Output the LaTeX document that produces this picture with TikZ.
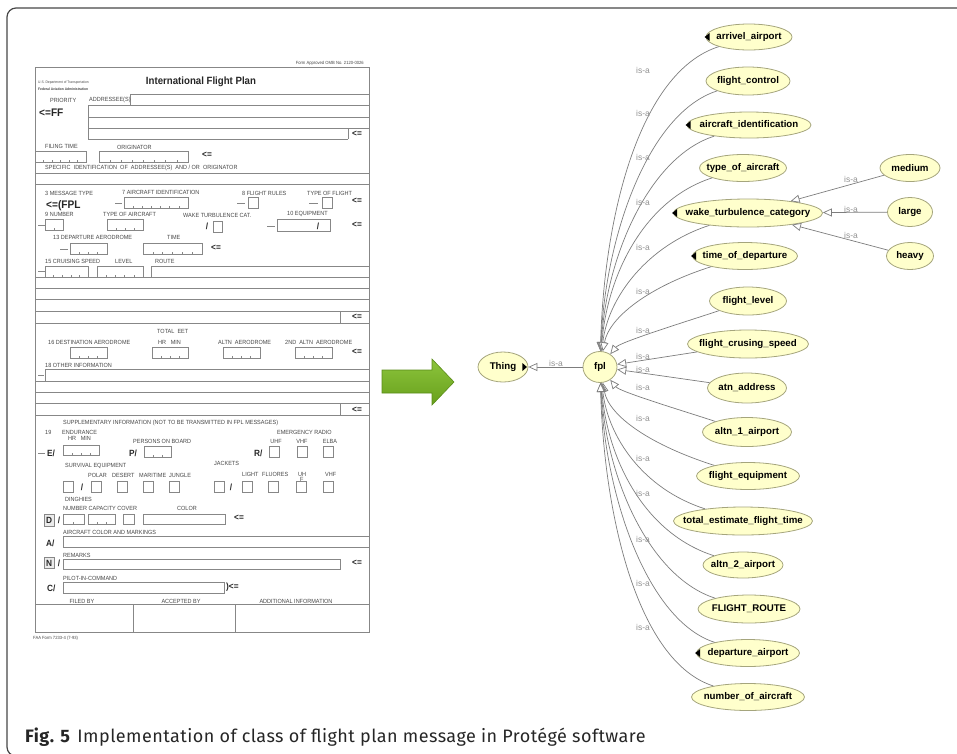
\documentclass[tikz,border=0pt]{standalone}
\usepackage{fontspec}
\setmainfont{Liberation Sans}
\newfontfamily\formfont[FakeStretch=0.92]{Liberation Sans}
\newfontfamily\capfont[LetterSpace=2.5]{Fira Sans}
\usetikzlibrary{shapes.geometric,arrows.meta}
\definecolor{nodefill}{RGB}{255,255,204}
\definecolor{nodeline}{RGB}{165,165,125}
\definecolor{edgegray}{RGB}{125,125,125}
\definecolor{formline}{RGB}{135,135,135}
\definecolor{formtext}{RGB}{70,70,70}
\definecolor{greenA}{RGB}{140,196,60}
\definecolor{greenB}{RGB}{104,160,28}
\definecolor{greenC}{RGB}{90,140,25}
\newcounter{lb}
\newcommand\flab[4][west]{\stepcounter{lb}\node[flabel,anchor=#1] (L\arabic{lb}) at (#2,#3) {#4};}
\newcommand\fcomb[5]{%
  \draw[fl] (#1,#2) rectangle (#3,#4);%
  \pgfmathtruncatemacro\fcn{#5-1}%
  \foreach \fci in {1,...,\fcn}{\draw[fl] ({#1+\fci*(#3-#1)/#5},#4) -- ++(0,-2.5);}%
}
\tikzset{
  frame/.style={draw=black!72, line width=1.2pt, rounded corners=9pt},
  fl/.style={draw=formline, line width=0.55pt},
  flabel/.style={inner sep=0pt, font=\formfont\fontsize{6}{6.5}\selectfont, text=formtext},
  ftitle/.style={inner sep=0pt, font=\formfont\bfseries\fontsize{10.5}{12}\selectfont, text=black!85},
  fbig/.style={inner sep=0pt, font=\formfont\bfseries\fontsize{11}{12}\selectfont, text=black!85},
  farr/.style={inner sep=0pt, font=\formfont\bfseries\fontsize{9}{10}\selectfont, text=black!85},
  cls/.style 2 args={ellipse, draw=nodeline, fill=nodefill, line width=0.8pt, inner sep=0pt,
     minimum width=#1, minimum height=#2, font=\bfseries\fontsize{9.7}{11}\selectfont},
  isa/.style={draw=edgegray, line width=0.7pt, -{Triangle[length=9pt,width=8pt,fill=white]}},
  isalab/.style={inner sep=0pt, font=\fontsize{8.5}{9}\selectfont, text=edgegray!85},
  marker/.style={fill=black},
}
\begin{document}
\begin{tikzpicture}[x=1pt,y=-1pt]
\useasboundingbox (0,0) rectangle (957,753);
\draw[frame] (7,8) rectangle (975,756);

% ================= FORM =================
\draw[fl] (35,67) rectangle (369,632);
\flab[east]{364}{63}{\fontsize{4.5}{5}\selectfont Form Approved OMB No. 2120-0026}
\flab{38}{83}{\fontsize{3.6}{4}\selectfont U.S. Department of Transportation}
\flab{38}{89}{\fontsize{3.6}{4}\selectfont\bfseries Federal Aviation Administration}
\node[ftitle] (title) at (201,82) {International Flight Plan};
\draw[fl] (130,94) -- (369,94) (130,94) -- (130,105);
\flab{50}{100}{PRIORITY}
\flab{89}{100}{ADDRESSEE(S)}
\node[fbig,anchor=west] (ff) at (39,113) {<=FF};
\draw[fl] (88,105) -- (369,105) (88,117) -- (369,117) (88,128) -- (369,128)
  (88,139) -- (348,139) (88,105) -- (88,139) (348,128) -- (348,139);
\node[farr] (a1) at (357,134) {<=};
\flab{45}{146}{FILING TIME}
\flab{117}{147}{ORIGINATOR}
\fcomb{35}{151}{86}{162}{6}
\fcomb{99}{151}{188}{162}{8}
\draw[fl,line width=1pt] (99,151) rectangle (188,162);
\node[farr] (a2) at (207,155) {<=};
\flab{45}{168}{SPECIFIC\ \ IDENTIFICATION\ \ OF\ \ ADDRESSEE(S)\ \ AND / OR\ \ ORIGINATOR}
\draw[fl] (35,173) -- (369,173) (35,184) -- (369,184);

\flab{45}{193}{3 MESSAGE TYPE}
\flab{122}{192}{7 AIRCRAFT IDENTIFICATION}
\flab{242}{193}{8 FLIGHT RULES}
\flab{307}{193}{TYPE OF FLIGHT}
\node[fbig,anchor=west] (fpltxt) at (46,206) {<=(FPL};
\draw[fl] (115,203) -- (122,203);
\fcomb{124}{197}{188}{208}{7}
\draw[fl] (237,203) -- (245,203) (248,197) rectangle (258,208);
\draw[fl] (309,203) -- (318,203) (322,197) rectangle (332,208);
\node[farr] (a3) at (357,201) {<=};
\flab{45}{214}{9 NUMBER}
\flab{103}{214}{TYPE OF AIRCRAFT}
\flab{183}{215}{WAKE TURBULENCE CAT.}
\flab{287}{214}{10 EQUIPMENT}
\draw[fl] (38,225) -- (45,225);
\fcomb{45}{219}{63}{230}{2}
\fcomb{107}{219}{143}{230}{4}
\node[farr] (s1) at (207,226) {/};
\draw[fl] (213,221) rectangle (222,232);
\draw[fl] (267,226) -- (275,226) (277,219) rectangle (330,231);
\node[farr] (s2) at (318,226) {/};
\node[farr] (a4) at (357,225) {<=};
\flab{53}{237}{13 DEPARTURE AERODROME}
\flab{167}{237}{TIME}
\draw[fl] (60,249) -- (68,249);
\fcomb{70}{243}{107}{254}{4}
\fcomb{143}{243}{202}{254}{6}
\node[farr] (a5) at (216,248) {<=};
\flab{45}{261}{15 CRUISING SPEED}
\flab{115}{261}{LEVEL}
\flab{155}{261}{ROUTE}
\draw[fl] (38,271) -- (45,271);
\fcomb{45}{266}{88}{277}{5}
\fcomb{97}{266}{143}{277}{5}
\draw[fl] (151,277) -- (151,266) -- (369,266);
\foreach \yy in {277,288,299,311,323} \draw[fl] (35,\yy) -- (369,\yy);
\draw[fl] (340,311) -- (340,323);
\node[farr] (a6) at (357,317) {<=};
\flab{157}{331}{TOTAL\ \ EET}
\flab{48}{342}{16 DESTINATION AERODROME}
\flab{158}{342}{HR\ \ \ MIN}
\flab{218}{342}{ALTN\ \ AERODROME}
\flab{285}{342}{2ND\ \ ALTN\ \ AERODROME}
\fcomb{70}{347}{107}{358}{4}
\fcomb{152}{347}{188}{358}{4}
\fcomb{223}{347}{260}{358}{4}
\fcomb{295}{347}{332}{358}{4}
\node[farr] (a7) at (357,352) {<=};
\flab{45}{365}{18 OTHER INFORMATION}
\draw[fl] (38,375) -- (44,375) (45,381) -- (45,369) -- (369,369);
\foreach \yy in {381,392,403,415} \draw[fl] (35,\yy) -- (369,\yy);
\draw[fl] (340,403) -- (340,415);
\node[farr] (a8) at (357,410) {<=};

\flab{63}{423}{SUPPLEMENTARY INFORMATION (NOT TO BE TRANSMITTED IN FPL MESSAGES)}
\flab{45}{432}{19}
\flab{62}{432}{ENDURANCE}
\flab{277}{432}{EMERGENCY RADIO}
\flab{68}{438}{HR\ \ \ MIN}
\flab{133}{441}{PERSONS ON BOARD}
\flab[center]{276}{441}{UHF}
\flab[center]{302}{441}{VHF}
\flab[center]{330}{441}{ELBA}
\draw[fl] (38,453) -- (45,453);
\node[farr,anchor=west] (e) at (47,453) {E/};
\fcomb{63}{445}{99}{455}{4}
\node[farr,anchor=west] (p) at (129,453) {P/};
\fcomb{144}{446}{171}{457}{3}
\node[farr,anchor=west] (r) at (254,453) {R/};
\draw[fl] (269,446) rectangle (279,457) (297,446) rectangle (307,457) (323,446) rectangle (333,457);
\flab{65}{466}{SURVIVAL EQUIPMENT}
\flab{214}{463}{JACKETS}
\flab{88}{475}{POLAR}
\flab{112}{475}{DESERT}
\flab{139}{475}{MARITIME}
\flab{169}{475}{JUNGLE}
\flab{242}{474}{LIGHT}
\flab{262}{474}{FLUORES}
\flab{298}{474}{UH}
\flab{300}{479}{F}
\flab{325}{474}{VHF}
\foreach \xx in {63,91,117,143,169,214,242,268,296,323} \draw[fl] (\xx,481) rectangle (\xx+10,492);
\node[farr] (s3) at (82,487) {/};
\node[farr] (s4) at (231,487) {/};
\flab{65}{499}{DINGHIES}
\flab{63}{508}{NUMBER CAPACITY COVER}
\flab{177}{508}{COLOR}
\draw[fl,fill=black!8] (44,514) rectangle (54,526);
\node[farr] (d) at (49,520) {D};
\node[farr] (s5) at (59,520) {/};
\fcomb{63}{514}{84}{524}{2}
\fcomb{88}{514}{115}{524}{3}
\draw[fl] (123,514) rectangle (134,524) (143,514) rectangle (225,524);
\node[farr] (a9) at (239,518) {<=};
\flab{63}{532}{AIRCRAFT COLOR AND MARKINGS}
\node[farr,anchor=west] (aa) at (46,543) {A/};
\draw[fl] (63,536) rectangle (369,547);
\flab{63}{555}{REMARKS}
\draw[fl,fill=black!8] (44,557) rectangle (54,568);
\node[farr] (n) at (49,563) {N};
\node[farr] (s6) at (59,563) {/};
\draw[fl] (63,559) rectangle (340,569);
\node[farr] (a10) at (357,563) {<=};
\flab{63}{578}{PILOT-IN-COMMAND}
\node[farr,anchor=west] (c) at (47,588) {C/};
\draw[fl] (63,582) rectangle (224,593);
\node[farr,anchor=west] (a11) at (226,587) {)<=};
\flab[center]{82}{601}{FILED BY}
\flab[center]{181}{601}{ACCEPTED BY}
\flab[center]{296}{601}{ADDITIONAL INFORMATION}
\draw[fl] (35,604) -- (369,604) (133,604) -- (133,632) (235,604) -- (235,632);
\flab{33}{638}{\fontsize{4.5}{5}\selectfont FAA Form 7233-4 (7-93)}

% ================= ARROW =================
\draw[draw=greenC, line width=0.6pt, top color=greenA, bottom color=greenB]
  (382,370) -- (432,370) -- (432,359) -- (454,382) -- (432,405) -- (432,393) -- (382,393) -- cycle;

% ================= ONTOLOGY =================
\node[cls={50pt}{30pt}] (thing) at (503,367) {\makebox[0pt]{Thing}};
\node[cls={34pt}{31pt}] (fpl) at (600,367) {\makebox[0pt]{fpl}};
\node[cls={86pt}{26pt}] (arr) at (749,37) {\makebox[0pt]{arrivel\_airport}};
\node[cls={84pt}{28pt}] (fco) at (748,81) {\makebox[0pt]{flight\_control}};
\node[cls={124pt}{26pt}] (aid) at (749,125) {\makebox[0pt]{aircraft\_identification}};
\node[cls={87pt}{27pt}] (toa) at (743,168) {\makebox[0pt]{type\_of\_aircraft}};
\node[cls={149pt}{28pt}] (wtc) at (748,213) {\makebox[0pt]{wake\_turbulence\_category}};
\node[cls={105pt}{27pt}] (tod) at (745,256) {\makebox[0pt]{time\_of\_departure}};
\node[cls={77pt}{28pt}] (flv) at (748,301) {\makebox[0pt]{flight\_level}};
\node[cls={121pt}{28pt}] (fcs) at (748,344) {\makebox[0pt]{flight\_crusing\_speed}};
\node[cls={79pt}{30pt}] (atn) at (747,388) {\makebox[0pt]{atn\_address}};
\node[cls={89pt}{29pt}] (al1) at (747,432) {\makebox[0pt]{altn\_1\_airport}};
\node[cls={103pt}{27pt}] (feq) at (748,476) {\makebox[0pt]{flight\_equipment}};
\node[cls={139pt}{28pt}] (tef) at (743,521) {\makebox[0pt]{total\_estimate\_flight\_time}};
\node[cls={80pt}{26pt}] (al2) at (743,565) {\makebox[0pt]{altn\_2\_airport}};
\node[cls={102pt}{28pt}] (frt) at (749,609) {\makebox[0pt]{FLIGHT\_ROUTE}};
\node[cls={103pt}{27pt}] (dep) at (748,653) {\makebox[0pt]{departure\_airport}};
\node[cls={113pt}{27pt}] (noa) at (748,697) {\makebox[0pt]{number\_of\_aircraft}};
\node[cls={60pt}{27pt}] (med) at (910,168) {\makebox[0pt]{medium}};
\node[cls={45pt}{29pt}] (lrg) at (910,212) {\makebox[0pt]{large}};
\node[cls={47pt}{27pt}] (hvy) at (910,256) {\makebox[0pt]{heavy}};

% markers
\foreach \nd in {arr,aid,wtc,tod,dep}
  \fill[marker] ([xshift=4pt,yshift=4pt]\nd.west) -- ([xshift=4pt,yshift=-4pt]\nd.west) -- ([xshift=-1pt]\nd.west) -- cycle;
\fill[marker] ([xshift=-6pt,yshift=4pt]thing.east) -- ([xshift=-6pt,yshift=-4pt]thing.east) -- ([xshift=-1.5pt]thing.east) -- cycle;

% edges
\draw[isa] (fpl) -- (thing);
\draw[isa] (arr) .. controls +(-110,35) and +(4,-150) .. (fpl);
\draw[isa] (fco) .. controls +(-100,32) and +(5,-130) .. (fpl);
\draw[isa] (aid) .. controls +(-100,32) and +(6,-110) .. (fpl);
\draw[isa] (toa) .. controls +(-100,32) and +(7,-90) .. (fpl);
\draw[isa] (wtc) .. controls +(-100,32) and +(8,-70) .. (fpl);
\draw[isa] (tod) .. controls +(-95,30) and +(9,-50) .. (fpl);
\draw[isa] (flv) .. controls +(-60,20) and +(20,-25) .. (fpl);
\draw[isa] (fcs) -- (fpl);
\draw[isa] (atn) -- (fpl);
\draw[isa] (al1) .. controls +(-60,-20) and +(20,25) .. (fpl);
\draw[isa] (feq) .. controls +(-95,-30) and +(9,50) .. (fpl);
\draw[isa] (tef) .. controls +(-100,-32) and +(8,70) .. (fpl);
\draw[isa] (al2) .. controls +(-100,-32) and +(7,90) .. (fpl);
\draw[isa] (frt) .. controls +(-100,-32) and +(6,110) .. (fpl);
\draw[isa] (dep) .. controls +(-100,-32) and +(5,130) .. (fpl);
\draw[isa] (noa) .. controls +(-110,-35) and +(4,150) .. (fpl);
\draw[isa] (med) -- (wtc);
\draw[isa] (lrg) -- (wtc);
\draw[isa] (hvy) -- (wtc);

% is-a labels
\node[isalab] (lt) at (556,363) {is-a};
\node[isalab] (lm) at (851,179) {is-a};
\node[isalab] (ll) at (851,209) {is-a};
\node[isalab] (lh) at (851,235) {is-a};
\foreach \yy [count=\ii] in {70,113,157,202,247,291,330,356,369,387,418,458,493,539,583,627}
  \node[isalab] (isa\ii) at (643,\yy) {is-a};

% ================= CAPTION =================
\node[anchor=base west, inner sep=0pt, font=\capfont\fontsize{18}{19}\selectfont, text=black!85] (cap) at (25,742)
  {\textbf{Fig. 5}\hspace{7pt}Implementation of class of flight plan message in Protégé software};
\end{tikzpicture}
\end{document}
